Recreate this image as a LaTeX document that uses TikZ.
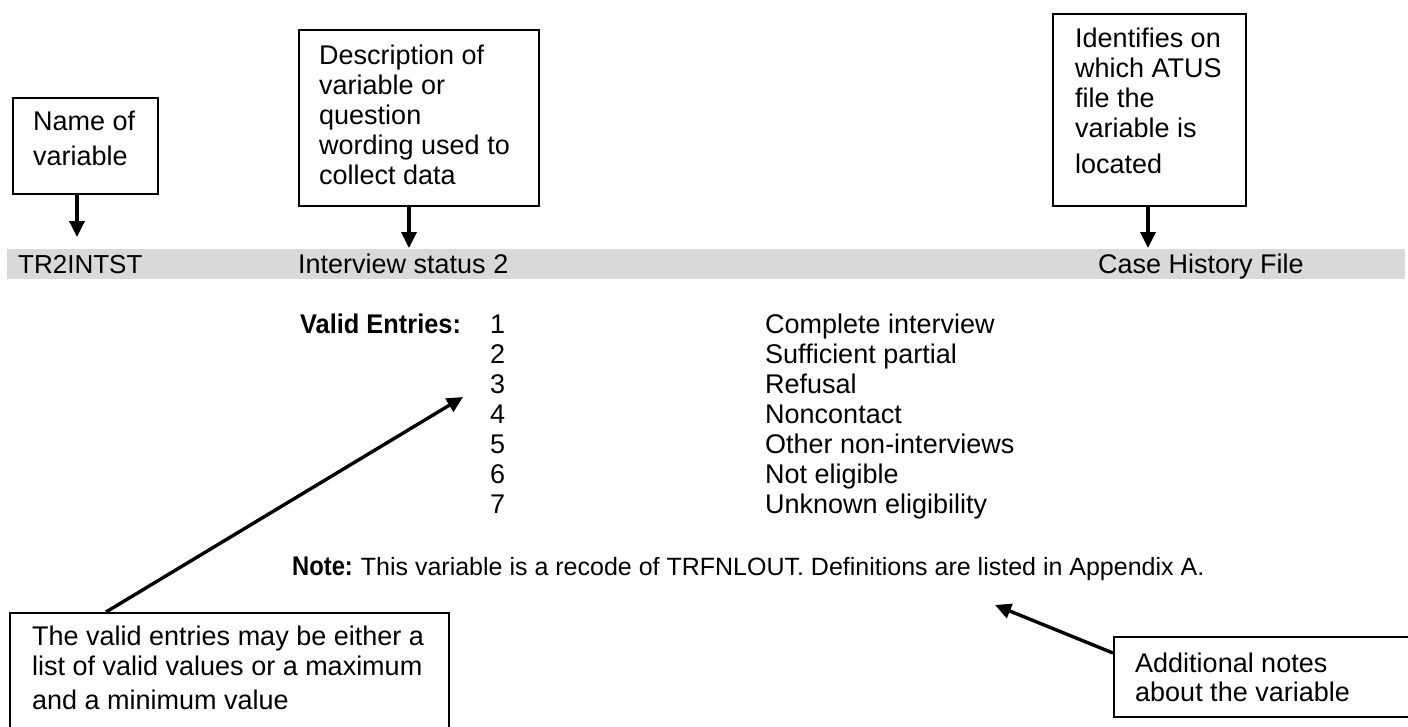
\documentclass[tikz,border=0pt]{standalone}
\usepackage{fontspec}
\usepackage{graphicx}
\setmainfont{Liberation Sans}
\usetikzlibrary{arrows.meta}
\definecolor{bandgray}{HTML}{D9D9D9}
\begin{document}
\begin{tikzpicture}[x=1pt,y=-1pt,
  box/.style={draw, line width=1.6pt, inner sep=0, anchor=north west},
  txt/.style={inner sep=0, anchor=base west, font=\fontsize{27}{30}\selectfont},
  notetxt/.style={inner sep=0, anchor=base west, font=\fontsize{25}{30}\selectfont},
  arr/.style={line width=3.4pt, -{Triangle[width=15pt,length=16pt]}},
]
\useasboundingbox (0,0) rectangle (1408,726);
\clip (0,0) rectangle (1408,726);

% grey band
\node[fill=bandgray, anchor=north west, minimum width=1398pt, minimum height=30pt, inner sep=0] (band) at (7,249) {};

% boxes
\node[box, minimum width=145pt, minimum height=96pt] (namebox) at (12,97) {};
\node[box, minimum width=240pt, minimum height=176pt] (descbox) at (298,29) {};
\node[box, minimum width=193pt, minimum height=192pt] (identbox) at (1052,13) {};
\node[box, minimum width=439pt, minimum height=130pt] (blbox) at (9,612) {};
\node[box, minimum width=310pt, minimum height=80pt] (addbox) at (1113,636) {};

% box texts
\node[txt] (nametxt) at (33,130) {\begin{tabular}[t]{@{}l@{}}Name of\\[5pt]variable\end{tabular}};
\node[txt] (desctxt) at (319,64) {\begin{tabular}[t]{@{}l@{}}Description of\\variable or\\question\\wording used to\\collect data\end{tabular}};
\node[txt] (identtxt) at (1075,47) {\begin{tabular}[t]{@{}l@{}}Identifies on\\which ATUS\\file the\\variable is\\[6pt]located\end{tabular}};
\node[txt] (bltxt) at (32,645) {\begin{tabular}[t]{@{}l@{}}The valid entries may be either a\\list of valid values or a maximum\\[4pt]and a minimum value\end{tabular}};
\node[txt] (addtxt) at (1135,672) {\begin{tabular}[t]{@{}l@{}}Additional notes\\[-1pt]about the variable\end{tabular}};

% band texts
\node[txt, font=\fontsize{26}{30}\selectfont] (varname) at (18,273) {TR2INTST};
\node[txt] (vardesc) at (298,273) {Interview status 2};
\node[txt] (varfile) at (1098,273) {Case History File};

% valid entries
\node[txt] (valid) at (300,333) {\scalebox{0.94}[1]{\bfseries Valid Entries:}};
\node[txt] (nums) at (490,333) {\begin{tabular}[t]{@{}l@{}}1\\2\\3\\4\\5\\6\\7\end{tabular}};
\node[txt] (labels) at (765,333) {\begin{tabular}[t]{@{}l@{}}Complete interview\\Sufficient partial\\Refusal\\Noncontact\\Other non-interviews\\Not eligible\\Unknown eligibility\end{tabular}};

% note
\node[notetxt] (note) at (292,575) {\scalebox{0.88}[1]{\fontsize{27}{30}\selectfont\bfseries Note:}\hspace{8pt}This variable is a recode of TRFNLOUT. Definitions are listed in Appendix A.};

% arrows
\coordinate (nametip) at (77,237);
\coordinate (desctip) at (409,248);
\coordinate (identtip) at (1148,248);
\coordinate (bltip) at (463,397);
\coordinate (addtip) at (995,605);
\draw[arr] (namebox.south -| nametip) -- (nametip);
\draw[arr] (descbox.south -| desctip) -- (desctip);
\draw[arr] (identbox.south -| identtip) -- (identtip);
\draw[arr] ([xshift=97pt]blbox.north west) -- (bltip);
\draw[arr] ([yshift=-17pt]addbox.north west) -- (addtip);
\end{tikzpicture}
\end{document}
